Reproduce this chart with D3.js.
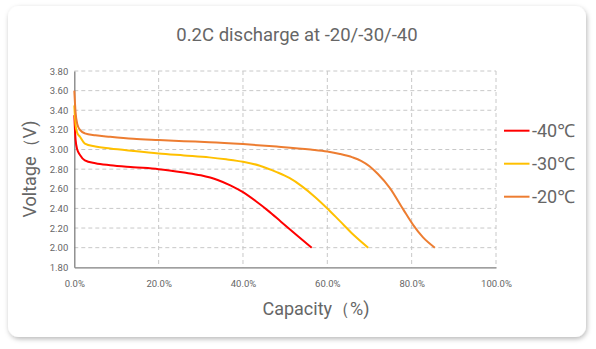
<!DOCTYPE html>
<html><head><meta charset="utf-8">
<script src="https://cdn.jsdelivr.net/npm/d3@7"></script>
<style>
body{margin:0;background:#fff;font-family:Roboto,"Noto Sans",sans-serif;}
</style></head>
<body><svg id="c" width="596" height="349"></svg>
<script>
const title = "0.2C discharge at -20/-30/-40";
const xTicks = [0,20,40,60,80,100];
const yTicks = [1.8,2.0,2.2,2.4,2.6,2.8,3.0,3.2,3.4,3.6,3.8];
const seriesNames = ["-40℃","-30℃","-20℃"];
const seriesColors = ["#ff0000","#ffc000","#ed7d31"];
const cap40 = [0,0.3,0.7,1.35,2.5,5,8.5,14,20,26,30,34,37,40,43,46,49,52.7,56.3];
const volt40 = [3.35,3.1,3.0,2.945,2.89,2.86,2.84,2.82,2.80,2.765,2.737,2.69,2.635,2.565,2.475,2.375,2.265,2.13,2.0];
const cap30 = [0,0.3,0.7,1.35,2.5,5,8.5,14,20,26,32,36,40,44,48,51,54,57,60,63,66,69.7];
const volt30 = [3.45,3.25,3.17,3.13,3.06,3.03,3.01,2.985,2.96,2.94,2.92,2.9,2.875,2.835,2.77,2.71,2.625,2.52,2.40,2.27,2.14,2.0];
const cap20 = [0,0.3,0.7,1.35,2.5,5,8.5,14,20,26,32,40,48,56,60,63,66,68,70,72,74.8,78,80.3,82.7,85.5];
const volt20 = [3.60,3.38,3.26,3.20,3.165,3.145,3.13,3.11,3.097,3.085,3.075,3.055,3.03,3.0,2.98,2.955,2.92,2.885,2.83,2.75,2.61,2.39,2.235,2.105,2.0];

const series = [
  {name:seriesNames[0], color:seriesColors[0], pts:cap40.map((c,i)=>[c,volt40[i]])},
  {name:seriesNames[1], color:seriesColors[1], pts:cap30.map((c,i)=>[c,volt30[i]])},
  {name:seriesNames[2], color:seriesColors[2], pts:cap20.map((c,i)=>[c,volt20[i]])}
];

const svg = d3.select("#c");
const defs = svg.append("defs");
const f = defs.append("filter").attr("id","sh").attr("x","-10%").attr("y","-10%").attr("width","120%").attr("height","125%");
f.append("feDropShadow").attr("dx",1).attr("dy",2).attr("stdDeviation",2.5).attr("flood-color","#000").attr("flood-opacity",0.28);
svg.append("rect").attr("x",8).attr("y",6).attr("width",578).attr("height",331).attr("rx",11)
  .attr("fill","#fff").attr("filter","url(#sh)");

const L=74.3, R=496, T=71, B=267.3;
const x = d3.scaleLinear().domain([0,100]).range([L,R]);
const y = d3.scaleLinear().domain([1.8,3.8]).range([B,T]);

// grid
const g = svg.append("g");
g.selectAll(".hg").data(yTicks.slice(1)).join("line")
  .attr("x1",L).attr("x2",R).attr("y1",d=>y(d)).attr("y2",d=>y(d))
  .attr("stroke","#c8c8c8").attr("stroke-dasharray","4,3").attr("stroke-width",1);
g.selectAll(".vg").data(xTicks.slice(1)).join("line")
  .attr("y1",T).attr("y2",B).attr("x1",d=>x(d)).attr("x2",d=>x(d))
  .attr("stroke","#c8c8c8").attr("stroke-dasharray","4,3").attr("stroke-width",1);

// axes
const ya = svg.append("g").attr("transform",`translate(${L},0)`)
  .call(d3.axisLeft(y).tickValues(yTicks).tickFormat(d3.format(".2f")).tickSize(0).tickPadding(6));
const xa = svg.append("g").attr("transform",`translate(0,${B})`)
  .call(d3.axisBottom(x).tickValues(xTicks).tickFormat(d=>d.toFixed(1)+"%").tickSize(0).tickPadding(13));
[ya,xa].forEach(a=>{
  a.select(".domain").attr("stroke","#7f7f7f").attr("stroke-width",1.3);
  a.selectAll("text").attr("fill","#666").style("font-size","9.5px").style("font-family","Roboto");
});

// lines
const line = d3.line().x(d=>x(d[0])).y(d=>y(d[1])).curve(d3.curveMonotoneX);
svg.selectAll(".s").data(series).join("path")
  .attr("d",d=>line(d.pts)).attr("fill","none").attr("stroke",d=>d.color).attr("stroke-width",2);

// title & labels
svg.append("text").attr("x",297).attr("y",41).attr("text-anchor","middle")
  .attr("fill","#666").style("font-size","18.5px").text(title);
svg.append("text").attr("x",316).attr("y",315).attr("text-anchor","middle")
  .attr("fill","#666").style("font-size","18px").text("Capacity（%)");
svg.append("text").attr("transform","translate(36,169) rotate(-90)").attr("text-anchor","middle")
  .attr("fill","#666").style("font-size","18px").text("Voltage（V)");

// legend
const lg = svg.append("g");
series.forEach((s,i)=>{
  const yy = 130.7 + i*33;
  lg.append("line").attr("x1",504).attr("x2",529.5).attr("y1",yy).attr("y2",yy)
    .attr("stroke",s.color).attr("stroke-width",2);
  lg.append("text").attr("x",532).attr("y",yy+6.5).attr("fill","#666")
    .style("font-size","18px").text(s.name);
});
</script></body></html>
